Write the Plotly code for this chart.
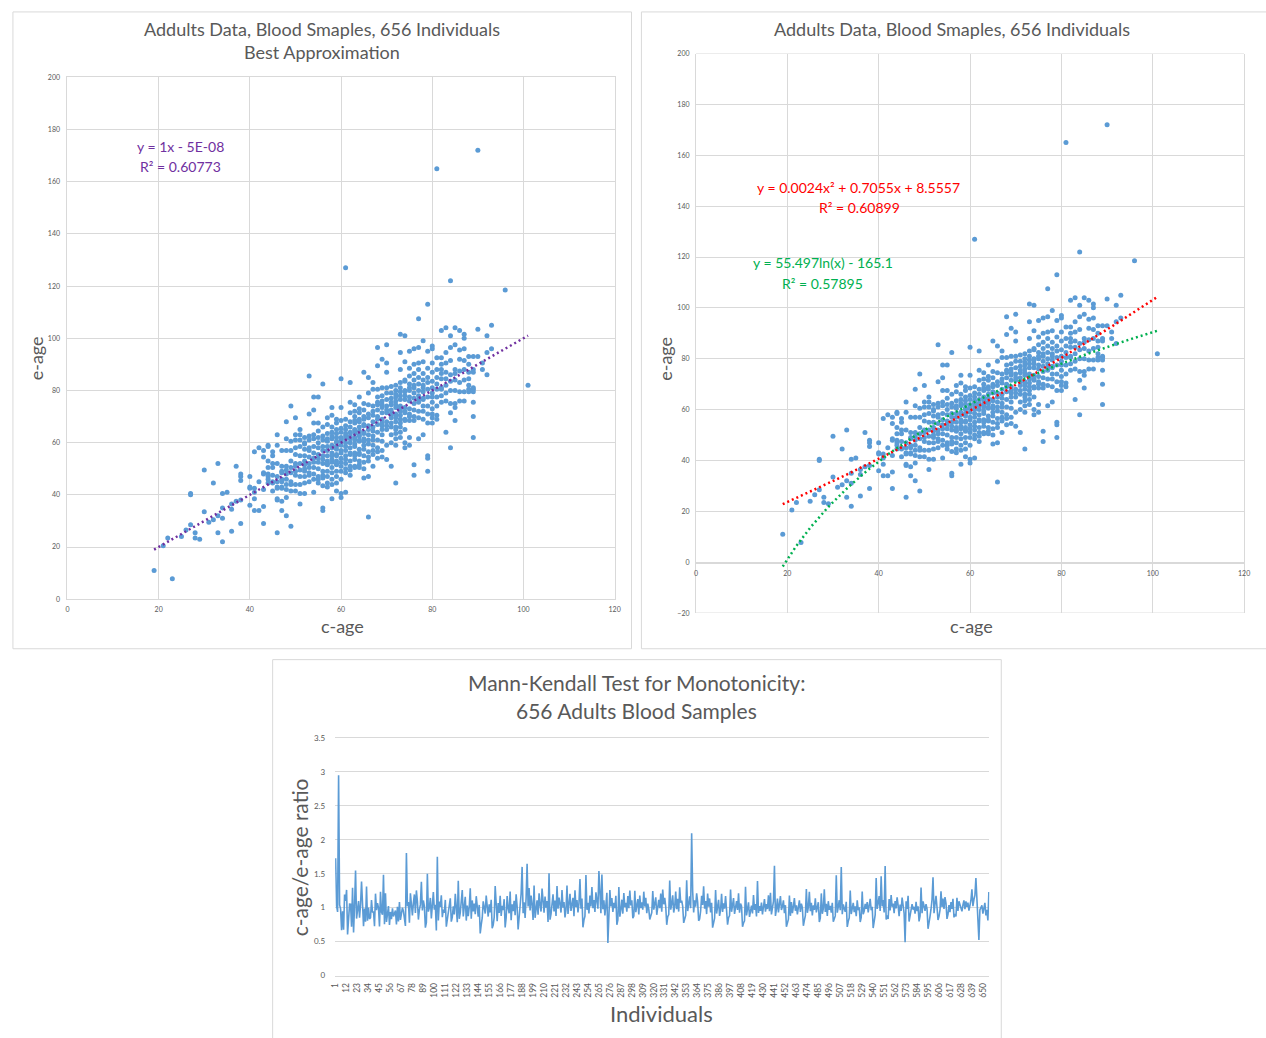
import numpy as np
import plotly.graph_objects as go

# ---------------- data (sorted by c-age, one entry per individual) ----------------
c_age = [
    19, 21, 22, 23, 25, 26, 27, 27, 27, 28, 28, 29, 30, 30, 31, 32, 32,
    33, 33, 33, 34, 34, 34, 34, 35, 36, 36, 36, 37, 37, 38, 38, 38, 38, 38,
    40, 40, 40, 40,
    41, 41, 41, 41, 41,
    42, 42, 42,
    43, 43, 43, 43, 43, 43, 43,
    44, 44, 44, 44, 44, 44, 44, 44,
    45, 45, 45, 45, 45, 45, 45, 45,
    46, 46, 46, 46, 46, 46, 46, 46, 46, 46,
    47, 47, 47, 47, 47, 47, 47, 47, 47, 47,
    48, 48, 48, 48, 48, 48, 48, 48, 48, 48, 48,
    49, 49, 49, 49, 49, 49, 49, 49, 49, 49,
    50, 50, 50, 50, 50, 50, 50, 50, 50, 50, 50,
    51, 51, 51, 51, 51, 51, 51, 51, 51, 51, 51,
    52, 52, 52, 52, 52, 52, 52, 52, 52, 52, 52, 52,
    53, 53, 53, 53, 53, 53, 53, 53, 53, 53, 53, 53,
    54, 54, 54, 54, 54, 54, 54, 54, 54, 54, 54, 54, 54,
    55, 55, 55, 55, 55, 55, 55, 55, 55, 55, 55, 55, 55,
    56, 56, 56, 56, 56, 56, 56, 56, 56, 56, 56, 56, 56, 56, 56,
    57, 57, 57, 57, 57, 57, 57, 57, 57, 57, 57, 57, 57, 57, 57,
    58, 58, 58, 58, 58, 58, 58, 58, 58, 58, 58, 58, 58, 58, 58, 58, 58,
    59, 59, 59, 59, 59, 59, 59, 59, 59, 59, 59, 59, 59, 59, 59, 59, 59, 59,
    60, 60, 60, 60, 60, 60, 60, 60, 60, 60, 60, 60, 60, 60, 60, 60, 60, 60,
    61, 61, 61, 61, 61, 61, 61, 61, 61, 61, 61, 61, 61, 61, 61, 61,
    62, 62, 62, 62, 62, 62, 62, 62, 62, 62, 62, 62, 62, 62, 62, 62,
    63, 63, 63, 63, 63, 63, 63, 63, 63, 63, 63, 63, 63, 63, 63, 63, 63,
    64, 64, 64, 64, 64, 64, 64, 64, 64, 64, 64, 64, 64, 64, 64, 64, 64,
    65, 65, 65, 65, 65, 65, 65, 65, 65, 65, 65, 65, 65, 65, 65, 65, 65,
    66, 66, 66, 66, 66, 66, 66, 66, 66, 66, 66, 66, 66, 66, 66,
    67, 67, 67, 67, 67, 67, 67, 67, 67, 67, 67, 67, 67, 67,
    68, 68, 68, 68, 68, 68, 68, 68, 68, 68, 68, 68, 68, 68, 68,
    69, 69, 69, 69, 69, 69, 69, 69, 69, 69, 69, 69, 69, 69, 69,
    70, 70, 70, 70, 70, 70, 70, 70, 70, 70, 70, 70, 70, 70,
    71, 71, 71, 71, 71, 71, 71, 71, 71, 71, 71, 71, 71,
    72, 72, 72, 72, 72, 72, 72, 72, 72, 72, 72, 72, 72, 72, 72, 72, 72,
    73, 73, 73, 73, 73, 73, 73, 73, 73, 73, 73, 73, 73, 73, 73, 73, 73,
    74, 74, 74, 74, 74, 74, 74, 74, 74, 74, 74, 74, 74, 74, 74, 74,
    75, 75, 75, 75, 75, 75, 75, 75, 75, 75, 75, 75, 75, 75,
    76, 76, 76, 76, 76, 76, 76, 76, 76, 76, 76, 76, 76, 76,
    77, 77, 77, 77, 77, 77, 77, 77, 77, 77, 77, 77, 77,
    78, 78, 78, 78, 78, 78, 78, 78, 78, 78, 78, 78, 78,
    79, 79, 79, 79, 79, 79, 79, 79, 79, 79, 79, 79, 79,
    80, 80, 80, 80, 80, 80, 80, 80, 80, 80, 80, 80, 80,
    81, 81, 81, 81, 81, 81, 81, 81, 81, 81,
    82, 82, 82, 82, 82, 82, 82, 82, 82, 82,
    83, 83, 83, 83, 83, 83, 83, 83, 83,
    84, 84, 84, 84, 84, 84, 84, 84, 84, 84,
    85, 85, 85, 85, 85, 85, 85, 85, 85,
    86, 86, 86, 86, 86, 86, 86,
    87, 87, 87, 87, 87, 87, 87, 87,
    88, 88, 88, 88, 88, 88, 88,
    89, 89, 89, 89, 89, 89, 89, 89, 89,
    90, 90, 90,
    91, 91,
    92, 92, 92,
    93, 93,
    96,
    101,
]

e_age = [
    11, 20.5, 23.5, 7.8, 24, 26.5, 40.5, 28.5, 40, 23.5, 25.5, 23, 49.5, 33.5, 29.5, 30.5, 44.5,
    25.5, 52, 32, 22, 40.5, 35, 31, 41, 34.5, 26, 36.5, 51, 37.5, 48, 29, 47, 38, 45.5,
    47, 36, 43, 42.5,
    56.5, 34, 42.5, 38.5, 41,
    58, 34, 45,
    48, 29, 57, 35.5, 54.5, 48.5, 42,
    59, 47, 53, 44.5, 50.5, 48, 46, 58.5,
    44.5, 56.5, 41.5, 55, 50.5, 45, 47.5, 52,
    63, 25.5, 45, 42.5, 59, 38, 47, 52, 43, 38.5,
    51, 37.5, 43, 57, 48.5, 45, 34, 49, 42.5, 46,
    68, 61.5, 32, 51, 48, 42, 57, 44, 39, 49.5, 46,
    74, 28, 60.5, 45, 48.5, 41.5, 57, 50.5, 53, 44,
    69.5, 61, 52, 47.5, 44, 63, 58, 49, 55.5, 41.5, 51,
    65, 36.5, 61, 55, 47, 40.5, 58.5, 52, 44, 63, 49.5,
    59.5, 51.5, 40.5, 62, 47, 55, 49, 57.5, 44.5, 53, 60, 50,
    85.5, 71, 62.5, 48.5, 54.5, 58, 45, 52, 61, 50.5, 57, 47.5,
    77.5, 72.5, 63, 41, 54, 67.5, 50.5, 58.5, 46, 61.5, 52.5, 56, 48,
    77.5, 64.5, 47, 55.5, 60, 44.5, 67.5, 52.5, 58, 50, 62, 46, 54,
    82.5, 62.5, 57, 46.5, 35, 61, 52, 66, 49, 34, 55, 43.5, 58.5, 47.5, 53.5,
    69.5, 43, 67, 58.5, 51.5, 63.5, 47, 55, 60.5, 44.5, 53, 61.5, 49, 57, 52,
    73.5, 38.5, 70.5, 64, 56, 48.5, 61.5, 52.5, 66, 44, 59, 50.5, 55, 62.5, 46, 58, 53.5,
    69, 60.5, 44.5, 65, 55, 49, 62, 57.5, 51.5, 67.5, 47, 58.5, 53, 63.5, 55.5, 41.5, 60, 52,
    84.5, 73.5, 68.5, 40.5, 62, 56, 65.5, 51, 59, 46, 60.5, 54, 64, 49, 57, 61, 39, 52.5,
    66.5, 41, 62.5, 55, 69, 58.5, 50, 127, 63.5, 48.5, 60, 53.5, 65, 57, 61.5, 52,
    83, 75.5, 47.5, 71.5, 64, 55.5, 68, 51, 61.5, 58, 66, 53, 62.5, 49.5, 60, 56,
    74.5, 72, 50.5, 67.5, 61, 56, 70, 53.5, 63.5, 58.5, 65, 51, 62, 55, 68.5, 59.5, 64.5,
    77.5, 73, 69, 51.5, 66, 60.5, 55.5, 71.5, 62.5, 57.5, 64.5, 53, 68, 50.5, 61, 56, 63,
    87, 75, 72.5, 46.5, 67, 61.5, 55, 70, 64, 52.5, 66.5, 57.5, 69, 50, 60.5, 59, 63.5,
    85, 79, 74.5, 47, 69.5, 63, 56.5, 66.5, 31.5, 53, 71, 59.5, 65, 54.5, 61,
    83, 80.5, 70.5, 57, 64.5, 51, 68, 61, 74, 55.5, 66, 59, 72, 62.5,
    96.5, 89.5, 80.5, 54, 74.5, 67, 61, 77.5, 70, 56.5, 72.5, 64, 69, 58, 75.5,
    92, 81, 78, 54.5, 73.5, 66.5, 60.5, 76, 69, 63, 71.5, 57, 74.5, 65, 67.5,
    97.5, 90.5, 87, 53.5, 79, 71.5, 65, 81, 74, 68, 76.5, 59, 72.5, 66.5,
    81.5, 51, 77, 69.5, 74.5, 66, 79, 71, 63, 75.5, 67.5, 72.5, 60,
    76, 59, 80, 70.5, 66, 44.5, 82, 73.5, 63.5, 77.5, 68, 61.5, 74.5, 71, 65, 78.5, 69.5,
    101.5, 94.5, 88, 62, 83, 67.5, 79.5, 72, 64, 76.5, 70.5, 81, 74, 66, 78, 69, 73,
    101, 91, 84, 58, 80, 73.5, 60, 78, 69, 83.5, 71.5, 76.5, 65, 79.5, 72, 68.5,
    95, 88.5, 62, 82.5, 76, 59, 80, 71, 85.5, 68.5, 77.5, 73, 81, 70,
    96, 90, 86.5, 51.5, 82, 75, 68.5, 79, 47.5, 84, 72.5, 77, 81, 70,
    107.5, 96.5, 90.5, 61.5, 85, 78, 72, 82.5, 75.5, 88, 69.5, 80, 76.5,
    99, 91, 63, 86.5, 82, 74, 79.5, 72, 84, 76.5, 69, 81, 77,
    113, 95, 88.5, 55, 80.5, 74, 67.5, 83, 54, 77.5, 71, 85, 49,
    97, 90.5, 96, 71, 83.5, 67.5, 79, 75.5, 87, 73, 81, 69.5, 77.5,
    92.5, 77.5, 85, 70.5, 80.5, 88, 165, 74, 82.5, 69,
    103, 92.5, 88, 78, 84.5, 81, 90, 75.5, 86.5, 80.5,
    104, 94.5, 64, 90.5, 76, 82, 87, 79, 84.5,
    122, 101, 96.5, 86, 75, 58, 91.5, 80, 71.5, 83.5,
    104, 97.5, 88, 68.5, 84, 75, 86.5, 73.5, 80,
    103, 95.5, 83, 92, 79.5, 87.5, 76,
    101.5, 96, 100, 76, 91.5, 79.5, 84, 88,
    93, 84.5, 79.5, 90, 80.5, 87, 82,
    93, 88, 80.5, 70, 87, 79.5, 75.5, 62, 81,
    103.5, 172, 93,
    90.5, 88,
    101, 94.5, 86,
    105, 96,
    118.5,
    82,
]

assert len(c_age) == len(e_age), (len(c_age), len(e_age))

# Trendline coefficients as printed on the chart
lin_slope, lin_icpt = 1.0, -5e-08
poly_a, poly_b, poly_c = 0.0024, 0.7055, 8.5557
log_a, log_b = 55.497, -165.1

scatter_xticks = [0, 20, 40, 60, 80, 100, 120]
left_yticks = [0, 20, 40, 60, 80, 100, 120, 140, 160, 180, 200]
right_yticks = [-20, 0, 20, 40, 60, 80, 100, 120, 140, 160, 180, 200]
ratio_yticks = [0, 0.5, 1, 1.5, 2, 2.5, 3, 3.5]

# ---------------- derived ----------------
n = len(c_age)
individuals = list(range(1, n + 1))
ratio = [c / e for c, e in zip(c_age, e_age)]
cat_ticks = individuals[::11]

tx = np.linspace(min(c_age), max(c_age), 300)
y_lin = lin_slope * tx + lin_icpt
y_poly = poly_a * tx ** 2 + poly_b * tx + poly_c
y_log = log_a * np.log(tx) + log_b

W, H = 1266, 1038
def PX(x): return x / W
def PY(y): return 1 - y / H

BLUE = "#5B9BD5"
GRID = "#D9D9D9"
TXT = "#595959"
FONT = "Lato, 'Open Sans', sans-serif"

fig = go.Figure()
fig.add_trace(go.Scatter(x=c_age, y=e_age, mode="markers", marker=dict(color=BLUE, size=5),
                         xaxis="x", yaxis="y", showlegend=False))
fig.add_trace(go.Scatter(x=tx, y=y_lin, mode="lines",
                         line=dict(color="#7030A0", width=2.5, dash="2px,3px"),
                         xaxis="x", yaxis="y", showlegend=False))
fig.add_trace(go.Scatter(x=c_age, y=e_age, mode="markers", marker=dict(color=BLUE, size=5),
                         xaxis="x2", yaxis="y2", showlegend=False))
fig.add_trace(go.Scatter(x=tx, y=y_poly, mode="lines",
                         line=dict(color="#FF0000", width=2.5, dash="2px,3px"),
                         xaxis="x2", yaxis="y2", showlegend=False))
fig.add_trace(go.Scatter(x=tx, y=y_log, mode="lines",
                         line=dict(color="#00B050", width=2.5, dash="2px,3px"),
                         xaxis="x2", yaxis="y2", showlegend=False))
fig.add_trace(go.Scatter(x=individuals, y=ratio, mode="lines",
                         line=dict(color=BLUE, width=1.6),
                         xaxis="x3", yaxis="y3", showlegend=False))

tickfont_small = dict(family=FONT, size=7, color=TXT)
common_axis = dict(showgrid=True, gridcolor=GRID, gridwidth=1, zeroline=False,
                   ticks="", tickfont=tickfont_small, fixedrange=True)

fig.update_layout(
    width=W, height=H,
    margin=dict(l=0, r=0, t=0, b=0),
    paper_bgcolor="white", plot_bgcolor="white",
    font=dict(family=FONT, color=TXT),
    xaxis=dict(common_axis, domain=[PX(63), PX(615)], range=[0, 120], tickvals=scatter_xticks,
               anchor="y", showline=True, mirror=True, linecolor=GRID, ticklabelstandoff=3),
    yaxis=dict(common_axis, domain=[PY(600), PY(73)], range=[0, 200], tickvals=left_yticks,
               anchor="x", showline=True, mirror=True, linecolor=GRID, ticklabelstandoff=5),
    xaxis2=dict(common_axis, domain=[PX(697), PX(1250)], range=[0, 120], tickvals=scatter_xticks,
                anchor="free", position=PY(563), showline=True, linecolor=GRID,
                ticklabelstandoff=4),
    yaxis2=dict(common_axis, domain=[PY(614), PY(49)], range=[-20, 200], tickvals=right_yticks,
                anchor="x2", showline=True, mirror=True, linecolor=GRID, ticklabelstandoff=4),
    xaxis3=dict(showgrid=False, zeroline=False, showline=True, mirror=True, linecolor=GRID,
                ticks="", domain=[PX(333), PX(993)], range=[0.5, n + 0.5],
                tickvals=cat_ticks, ticktext=[str(v) for v in cat_ticks], tickangle=-90,
                tickfont=dict(family=FONT, size=8.5, color=TXT), anchor="y3", fixedrange=True,
                ticklabelstandoff=3),
    yaxis3=dict(common_axis, showline=False, domain=[PY(980), PY(740)], range=[0, 3.5],
                tickvals=ratio_yticks, tickfont=dict(family=FONT, size=8, color=TXT),
                anchor="x3", ticklabelstandoff=9),
)

shapes = []
for (x0, y0, x1, y1) in [(8, 7, 632, 650), (642, 7, 1275, 650), (270, 661, 1005, 1045)]:
    shapes.append(dict(type="rect", xref="paper", yref="paper", x0=PX(x0), y0=PY(y1),
                       x1=PX(x1), y1=PY(y0), line=dict(color=GRID, width=1),
                       fillcolor="rgba(0,0,0,0)", layer="below"))
# top and bottom border lines of the right plot area (y = 200 and y = -20)
for yv in (right_yticks[0], right_yticks[-1]):
    shapes.append(dict(type="line", xref="x2", yref="y2", x0=scatter_xticks[0], x1=scatter_xticks[-1],
                       y0=yv, y1=yv, line=dict(color=GRID, width=1), layer="below"))
fig.update_layout(shapes=shapes)

def ann(text, x, y, size, color=TXT, angle=0):
    return dict(text=text, x=PX(x), y=PY(y), xref="paper", yref="paper", showarrow=False,
                xanchor="center", yanchor="middle", textangle=angle,
                font=dict(family=FONT, size=size, color=color))

annotations = [
    ann("Addults Data, Blood Smaples, 656 Individuals", 320, 24, 18),
    ann("Best Approximation", 320, 47, 18),
    ann("Addults Data, Blood Smaples, 656 Individuals", 955, 24, 18),
    ann("Mann-Kendall Test for Monotonicity:", 637, 684, 21),
    ann("656 Adults Blood Samples", 637, 712, 21),
    ann("e-age", 31, 357, 18, angle=-90),
    ann("c-age", 340, 627, 18),
    ann("e-age", 665, 357, 18, angle=-90),
    ann("c-age", 975, 627, 18),
    ann("c-age/e-age ratio", 297, 860, 21, angle=-90),
    ann("Individuals", 662, 1018, 22),
    ann("y = 1x - 5E-08", 177, 143, 14, color="#7030A0"),
    ann("R² = 0.60773", 177, 163, 14, color="#7030A0"),
    ann("y = 0.0024x² + 0.7055x + 8.5557", 861, 184, 14, color="#FF0000"),
    ann("R² = 0.60899", 862, 204, 14, color="#FF0000"),
    ann("y = 55.497ln(x) - 165.1", 825, 260, 14, color="#00B050"),
    ann("R² = 0.57895", 825, 281, 14, color="#00B050"),
]
fig.update_layout(annotations=annotations)

fig.write_html("out.html")
